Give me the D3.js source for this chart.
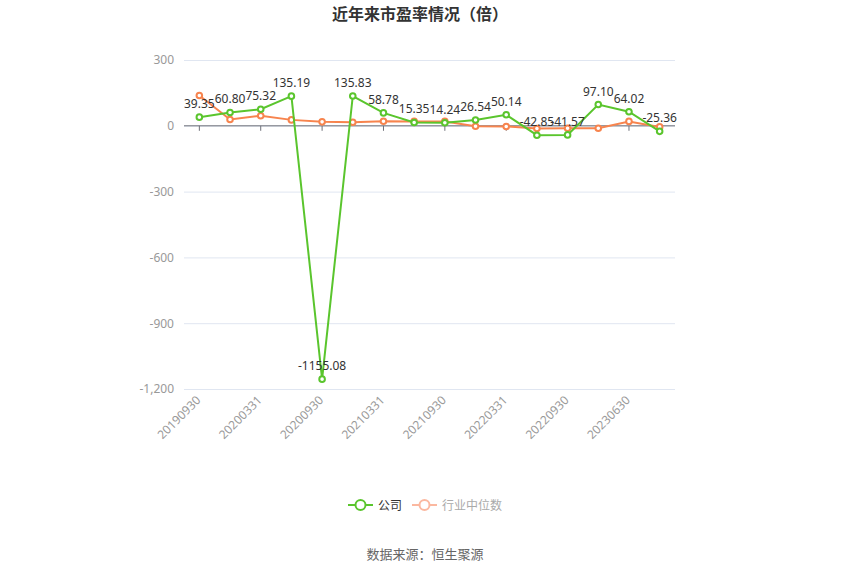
<!DOCTYPE html>
<html>
<head>
<meta charset="utf-8">
<script src="https://cdn.jsdelivr.net/npm/d3@7"></script>
<style>
  body { margin: 0; background: #fff; }
  svg { font-family: "Noto Sans CJK SC", "Noto Sans", sans-serif; }
</style>
</head>
<body>
<svg id="chart" width="850" height="575"></svg>
<script>
// categories (report dates)
const dates = ["20190930", "20191231", "20200331", "20200630", "20200930", "20201231",
  "20210331", "20210630", "20210930", "20211231", "20220331", "20220630",
  "20220930", "20221231", "20230630", "20230930"];

// company PE
const companyPE = [39.35, 60.80, 75.32, 135.19, -1155.08, 135.83, 58.78, 15.35,
  14.24, 26.54, 50.14, -42.85, -41.57, 97.10, 64.02, -25.36];

// industry median PE
const industryPE = [138, 29, 46, 27, 18, 16, 21, 20, 20, -2, -3, -12, -11, -11, 20, -5];

const yTicks = [300, 0, -300, -600, -900, -1200];

const green = "#5ac52d", orange = "#f7844e";

const svg = d3.select("#chart");
const plot = {left: 184, right: 675, top: 60, bottom: 389};

const x = d3.scaleBand().domain(dates).range([plot.left, plot.right]);
const cx = d => x(d) + x.bandwidth() / 2;
const y = d3.scaleLinear().domain([-1200, 300]).range([plot.bottom, plot.top]);

// title
svg.append("text")
  .attr("x", 420).attr("y", 20)
  .attr("text-anchor", "middle")
  .attr("font-size", 16).attr("font-weight", "bold")
  .attr("fill", "#333")
  .text("近年来市盈率情况（倍）");

// grid + y labels (plain hyphen as minus sign)
const fmt = d3.format(",");
const yAxis = d3.axisLeft(y).tickValues(yTicks)
  .tickSize(-(plot.right - plot.left)).tickPadding(10)
  .tickFormat(d => fmt(d).replace("−", "-"));
svg.append("g")
  .attr("transform", `translate(${plot.left},0)`)
  .call(yAxis)
  .call(g => g.select(".domain").remove())
  .call(g => g.selectAll("line").attr("stroke", "#e0e6f1"))
  .call(g => g.selectAll("text").attr("fill", "#999").attr("font-size", 12)
    .attr("font-family", "'Noto Sans', sans-serif"));

// zero axis line with ticks every other category
const xAxis = d3.axisBottom(x)
  .tickValues(dates.filter((d, i) => i % 2 === 0))
  .tickSize(5).tickFormat("");
svg.append("g")
  .attr("transform", `translate(0,${y(0)})`)
  .call(xAxis)
  .call(g => g.select(".domain").attr("stroke", "#6e7079").attr("d", `M${plot.left},0H${plot.right}`))
  .call(g => g.selectAll("line").attr("stroke", "#6e7079"));

// x labels at the bottom, rotated
svg.append("g")
  .selectAll("text")
  .data(dates.filter((d, i) => i % 2 === 0))
  .join("text")
  .attr("transform", d => `translate(${cx(d) + 2},${plot.bottom + 12}) rotate(-45)`)
  .attr("text-anchor", "end")
  .attr("font-size", 12)
  .attr("font-family", "'Noto Sans', sans-serif")
  .attr("fill", "#999")
  .text(d => d);

function drawSeries(values, color, labels) {
  const line = d3.line().x((d, i) => cx(dates[i])).y(d => y(d));
  svg.append("path")
    .datum(values)
    .attr("fill", "none")
    .attr("stroke", color)
    .attr("stroke-width", 2)
    .attr("d", line);
  svg.append("g")
    .selectAll("circle")
    .data(values)
    .join("circle")
    .attr("cx", (d, i) => cx(dates[i]))
    .attr("cy", d => y(d))
    .attr("r", 2.8)
    .attr("fill", "#fff")
    .attr("stroke", color)
    .attr("stroke-width", 2);
  if (labels) {
    svg.append("g")
      .selectAll("text")
      .data(values)
      .join("text")
      .attr("x", (d, i) => cx(dates[i]))
      .attr("y", d => y(d) - 9)
      .attr("text-anchor", "middle")
      .attr("font-size", 12)
      .attr("font-family", "'Noto Sans', sans-serif")
      .attr("fill", "#333")
      .text(d => d.toFixed(2));
  }
}

drawSeries(industryPE, orange, false);
drawSeries(companyPE, green, true);

// legend
const legend = [
  {name: "公司", color: green, text: "#333", x: 348},
  {name: "行业中位数", color: "#fbb8a0", text: "#aaa", x: 412}
];
const lg = svg.append("g").selectAll("g").data(legend).join("g")
  .attr("transform", d => `translate(${d.x},505)`);
lg.append("line").attr("x1", 0).attr("x2", 25)
  .attr("stroke", d => d.color).attr("stroke-width", 2);
lg.append("circle").attr("cx", 12.5).attr("r", 5)
  .attr("fill", "#fff").attr("stroke", d => d.color).attr("stroke-width", 2);
lg.append("text").attr("x", 30).attr("y", 4.5)
  .attr("font-size", 12).attr("fill", d => d.text)
  .text(d => d.name);

// source
svg.append("text")
  .attr("x", 425).attr("y", 559)
  .attr("text-anchor", "middle")
  .attr("font-size", 13).attr("fill", "#666")
  .text("数据来源：恒生聚源");
</script>
</body>
</html>
